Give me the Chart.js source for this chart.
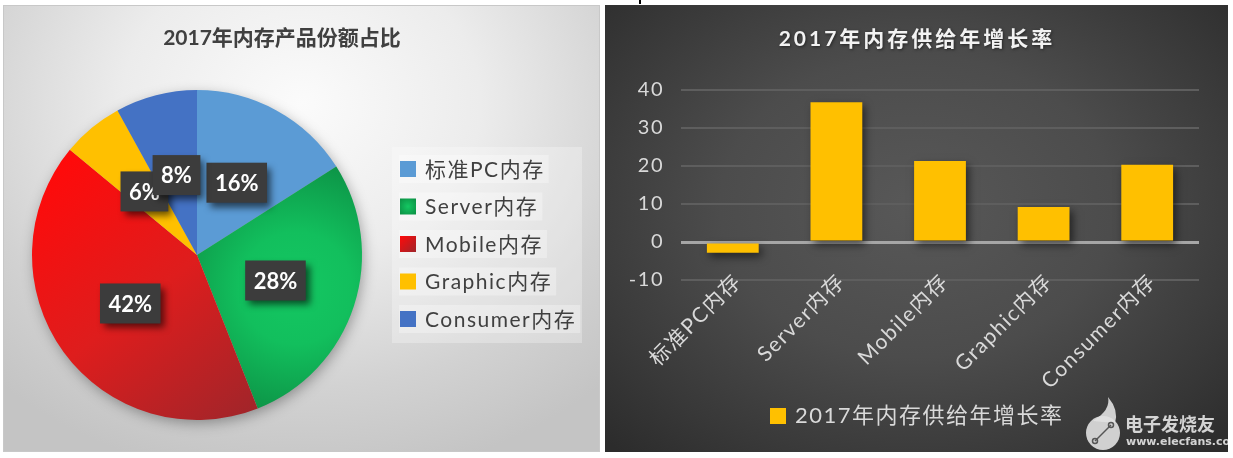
<!DOCTYPE html>
<html><head><meta charset="utf-8">
<script src="https://cdn.jsdelivr.net/npm/chart.js@4.4.1/dist/chart.umd.min.js"></script>
<style>
html,body{margin:0;padding:0;background:#fff;width:1233px;height:458px;overflow:hidden;}
#left{position:absolute;left:3px;top:5px;width:597px;height:447px;
  background:radial-gradient(ellipse 75% 85% at 50% 22%, #fbfbfb 0%, #ececec 40%, #d2d2d2 75%, #c4c4c4 100%);
  box-shadow:inset 0 0 0 1px #c8c8c8;}
#right{position:absolute;left:605px;top:5px;width:623px;height:447px;
  background:radial-gradient(ellipse 70% 75% at 50% 45%, #585858 0%, #4c4c4c 45%, #383838 80%, #2c2c2c 100%);}
canvas{position:absolute;left:0;top:0;}
#tick{position:absolute;left:639px;top:0;width:2px;height:4px;background:#000;}
</style></head>
<body>
<div id="left"><canvas id="pie" width="597" height="447"></canvas></div>
<div id="right"><canvas id="bar" width="623" height="447"></canvas></div>
<div id="tick"></div>
<script>
// ---------- data ----------
const pieTitle = '2017年内存产品份额占比';
const pieCategories = ['标准PC内存', 'Server内存', 'Mobile内存', 'Graphic内存', 'Consumer内存'];
const pieShares = [16, 28, 42, 6, 8];

const barTitle = '2017年内存供给年增长率';
const barSeriesName = '2017年内存供给年增长率';
const barCategories = ['标准PC内存', 'Server内存', 'Mobile内存', 'Graphic内存', 'Consumer内存'];
const barGrowth = [-2.8, 36.8, 21.3, 9.2, 20.3];
const yTicks = [-10, 0, 10, 20, 30, 40];

// ---------- styles ----------
const FONT = 'Lato, "Noto Sans CJK SC", sans-serif';
const pieColors = ['#5B9BD5', '#12B85A', '#E01B1B', '#FFC000', '#4472C4'];

function pieFill(c) {
  const i = c.dataIndex, chart = c.chart, a = chart.chartArea;
  if (!a) return pieColors[i];
  const ctx = chart.ctx;
  const cx = (a.left + a.right) / 2, cy = (a.top + a.bottom) / 2, r = (a.right - a.left) / 2;
  if (i === 2) {
    const g = ctx.createLinearGradient(cx - r * 0.85, cy - r * 0.55, cx + r * 0.35, cy + r * 0.98);
    g.addColorStop(0, '#FF0A0A'); g.addColorStop(0.5, '#DE1D1D'); g.addColorStop(1, '#A0252A');
    return g;
  }
  if (i === 1) {
    const gx = cx + r * 0.6, gy = cy + r * 0.2;
    const g = ctx.createRadialGradient(gx, gy, 0, gx, gy, r * 0.85);
    g.addColorStop(0, '#14C762'); g.addColorStop(0.4, '#12BF5D'); g.addColorStop(1, '#0C8D43');
    return g;
  }
  return pieColors[i];
}

const pieDecor = {
  id: 'pieDecor',
  beforeDatasetsDraw(chart) {
    const arc = chart.getDatasetMeta(0).data[0];
    if (!arc) return;
    const ctx = chart.ctx;
    ctx.save();
    ctx.shadowColor = 'rgba(0,0,0,0.35)'; ctx.shadowBlur = 14; ctx.shadowOffsetX = 2; ctx.shadowOffsetY = 4;
    ctx.beginPath(); ctx.arc(arc.x, arc.y, arc.outerRadius - 1, 0, Math.PI * 2);
    ctx.fillStyle = '#aaa'; ctx.fill();
    ctx.restore();
  },
  afterDatasetsDraw(chart) {
    const ctx = chart.ctx;
    const meta = chart.getDatasetMeta(0);
    const vals = chart.data.datasets[0].data;
    ctx.save();
    ctx.font = 'bold 22px ' + FONT;
    meta.data.forEach((el, i) => {
      const p = el.tooltipPosition();
      const txt = vals[i] + '%';
      const w = ctx.measureText(txt).width + 17, h = 40;
      ctx.save();
      ctx.shadowColor = 'rgba(0,0,0,0.6)'; ctx.shadowBlur = 7; ctx.shadowOffsetX = 4; ctx.shadowOffsetY = 5;
      ctx.fillStyle = '#3c3c3c';
      ctx.fillRect(p.x - w / 2, p.y - h / 2, w, h);
      ctx.restore();
      ctx.fillStyle = '#ffffff'; ctx.textAlign = 'center'; ctx.textBaseline = 'middle';
      ctx.fillText(txt, p.x, p.y + 1);
    });
    ctx.restore();
  },
  afterDraw(chart) {
    const ctx = chart.ctx;
    ctx.save();
    // title
    ctx.font = 'bold 21px ' + FONT; ctx.fillStyle = '#404040';
    ctx.textAlign = 'center'; ctx.textBaseline = 'middle';
    ctx.fillText(pieTitle, 279, 33);
    // legend
    ctx.fillStyle = 'rgba(255,255,255,0.28)';
    ctx.fillRect(389, 142, 190, 196);
    ctx.font = '21px ' + FONT; ctx.textAlign = 'left';
    ctx.letterSpacing = '1.5px';
    chart.data.labels.forEach((lab, i) => {
      const y = 164 + i * 37.5;
      const tw = ctx.measureText(lab).width;
      ctx.fillStyle = 'rgba(255,255,255,0.3)';
      ctx.fillRect(396, y - 14, 30 + tw, 28);
      let fill = pieColors[i];
      if (i === 2) { const g = ctx.createLinearGradient(397, y - 8, 413, y + 8); g.addColorStop(0, '#FF0A0A'); g.addColorStop(1, '#A0252A'); fill = g; }
      if (i === 1) { const g = ctx.createRadialGradient(405, y, 0, 405, y, 10); g.addColorStop(0, '#14C762'); g.addColorStop(1, '#0C9446'); fill = g; }
      ctx.fillStyle = fill;
      ctx.fillRect(397, y - 8, 16, 16);
      ctx.fillStyle = '#404040';
      ctx.fillText(lab, 422, y + 1);
    });
    ctx.restore();
  }
};

new Chart(document.getElementById('pie'), {
  type: 'pie',
  data: { labels: pieCategories, datasets: [{ data: pieShares, backgroundColor: pieFill, borderWidth: 0, hoverOffset: 0 }] },
  options: {
    responsive: false, animation: false, events: [],
    layout: { padding: { left: 29, top: 85, right: 238, bottom: 32 } },
    plugins: { legend: { display: false }, tooltip: { enabled: false }, title: { display: false } }
  },
  plugins: [pieDecor]
});

const barDecor = {
  id: 'barDecor',
  beforeDraw(chart) {
    chart.ctx.letterSpacing = '1.5px';
  },
  beforeDatasetsDraw(chart) {
    const ctx = chart.ctx;
    ctx.save();
    ctx.shadowColor = 'rgba(0,0,0,0.55)'; ctx.shadowBlur = 8; ctx.shadowOffsetX = 3; ctx.shadowOffsetY = 4;
  },
  afterDatasetsDraw(chart) { chart.ctx.restore(); },
  afterDraw(chart) {
    const ctx = chart.ctx;
    ctx.save();
    // title
    ctx.font = 'bold 21px ' + FONT; ctx.fillStyle = '#f2f2f2';
    ctx.letterSpacing = '3px';
    ctx.textAlign = 'center'; ctx.textBaseline = 'middle';
    ctx.shadowColor = 'rgba(0,0,0,0.5)'; ctx.shadowBlur = 3; ctx.shadowOffsetX = 1; ctx.shadowOffsetY = 1;
    ctx.fillText(barTitle, 312, 34);
    ctx.shadowColor = 'transparent';
    // legend
    ctx.fillStyle = '#FFC000';
    ctx.fillRect(165, 403, 16, 16);
    ctx.font = '22px ' + FONT; ctx.fillStyle = '#d9d9d9'; ctx.textAlign = 'left';
    ctx.letterSpacing = '1.5px';
    ctx.fillText(chart.data.datasets[0].label, 190, 411);
    // watermark
    ctx.letterSpacing = '0px';
    ctx.fillStyle = 'rgba(225,225,225,0.9)';
    ctx.beginPath(); ctx.arc(498, 428, 17, 0, Math.PI * 2); ctx.fill();
    ctx.beginPath(); ctx.moveTo(488, 416); ctx.quadraticCurveTo(506, 405, 503, 392); ctx.quadraticCurveTo(514, 405, 510, 418); ctx.fill();
    ctx.strokeStyle = '#555'; ctx.lineWidth = 1.5;
    ctx.beginPath(); ctx.moveTo(490, 436); ctx.lineTo(506, 420); ctx.stroke();
    ctx.beginPath(); ctx.arc(490, 436, 2.5, 0, Math.PI * 2); ctx.stroke();
    ctx.beginPath(); ctx.arc(506, 420, 2.5, 0, Math.PI * 2); ctx.stroke();
    ctx.fillStyle = 'rgba(230,230,230,0.9)';
    ctx.font = 'bold 18px "Noto Sans CJK SC", sans-serif'; ctx.textBaseline = 'middle';
    ctx.fillText('电子发烧友', 520, 419);
    ctx.font = 'bold 11px "DejaVu Sans", sans-serif';
    ctx.fillText('www.elecfans.com', 521, 437);
    ctx.restore();
  }
};

new Chart(document.getElementById('bar'), {
  type: 'bar',
  data: {
    labels: barCategories,
    datasets: [{ label: barSeriesName, data: barGrowth, backgroundColor: '#FFC000', borderWidth: 0,
      categoryPercentage: 1, barPercentage: 0.5 }]
  },
  options: {
    responsive: false, animation: false, events: [],
    layout: { padding: { left: 0, right: 29, top: 85, bottom: 62 } },
    plugins: { legend: { display: false }, tooltip: { enabled: false }, title: { display: false } },
    scales: {
      y: {
        min: -10, max: 40,
        afterBuildTicks: s => { s.ticks = yTicks.map(v => ({ value: v })); },
        afterFit: s => { s.width = 76; },
        border: { display: false },
        grid: { drawTicks: false, color: c => (c.tick && c.tick.value === 0) ? '#a6a6a6' : '#5e5e5e',
                lineWidth: c => (c.tick && c.tick.value === 0) ? 3 : 2 },
        ticks: { padding: 17, color: '#d9d9d9', font: { family: FONT, size: 20 } }
      },
      x: {
        afterFit: s => { s.height = 110; s._computeLabelArea = () => undefined; },
        border: { display: false },
        grid: { display: false },
        ticks: { autoSkip: false, maxRotation: 45, minRotation: 45, padding: -19, labelOffset: 5, color: '#d9d9d9',
                 font: { family: FONT, size: 21 } }
      }
    }
  },
  plugins: [barDecor]
});
</script>
</body></html>
